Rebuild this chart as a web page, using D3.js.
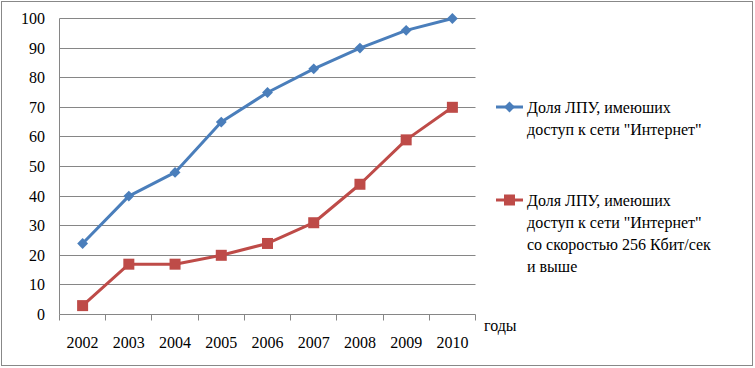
<!DOCTYPE html>
<html>
<head>
<meta charset="utf-8">
<script src="https://cdn.jsdelivr.net/npm/d3@7"></script>
<style>
  body { margin: 0; }
  .lbl { font-family: "Liberation Serif", serif; font-size: 16px; }
</style>
</head>
<body>
<div id="graf"></div>
<script>
// Datos
const years = ["2002", "2003", "2004", "2005", "2006", "2007", "2008", "2009", "2010"]
const accesoInternet = [24, 40, 48, 65, 75, 83, 90, 96, 100]
const accesoRapido = [3, 17, 17, 20, 24, 31, 44, 59, 70]
const yTicks = [0, 10, 20, 30, 40, 50, 60, 70, 80, 90, 100]
const legendBlue = ["Доля ЛПУ, имеюших", "доступ к сети  \"Интернет\""]
const legendRed = ["Доля ЛПУ, имеюших", "доступ к сети  \"Интернет\"", "со скоростью 256 Кбит/сек", "и выше"]
const axisTitle = "годы"

const ancho = 755
const alto = 368
const azul = "#4a7ebb"
const rojo = "#be4b48"
const fuente = "Liberation Serif"

const svg = d3.select("#graf")
  .append("svg")
  .attr("width", ancho)
  .attr("height", alto)

// marco exterior
svg.append("rect")
  .attr("x", 1.5).attr("y", 1.5)
  .attr("width", 751).attr("height", 364)
  .attr("fill", "white")
  .attr("stroke", "#888")

// Escaladores
const x = d3.scaleBand().domain(years).range([59.5, 475.5])
const y = d3.scaleLinear().domain([0, 100]).range([314.5, 18.5])
const cx = (d) => x(d) + x.bandwidth() / 2

// rejilla
svg.append("g")
  .selectAll("line")
  .data(yTicks.slice(1))
  .join("line")
  .attr("x1", 59.5).attr("x2", 475.5)
  .attr("y1", (d) => Math.round(y(d) - 0.5) + 0.5)
  .attr("y2", (d) => Math.round(y(d) - 0.5) + 0.5)
  .attr("stroke", "#868686")

// ejes
svg.append("line")
  .attr("x1", 59.5).attr("x2", 59.5)
  .attr("y1", 18.5).attr("y2", 314.5)
  .attr("stroke", "#868686")
svg.append("line")
  .attr("x1", 59.5).attr("x2", 475.5)
  .attr("y1", 314.5).attr("y2", 314.5)
  .attr("stroke", "#868686")

svg.append("g")
  .selectAll("line")
  .data(d3.range(years.length + 1))
  .join("line")
  .attr("x1", (i) => Math.round(59.5 + i * x.step() - 0.5) + 0.5)
  .attr("x2", (i) => Math.round(59.5 + i * x.step() - 0.5) + 0.5)
  .attr("y1", 314.5).attr("y2", 320.5)
  .attr("stroke", "#868686")

// etiquetas
svg.append("g")
  .selectAll("text")
  .data(yTicks)
  .join("text")
  .attr("class", "lbl")
  .attr("x", 45)
  .attr("y", (d) => y(d) + 5.5)
  .attr("text-anchor", "end")
  .attr("font-family", fuente)
  .text((d) => d)

svg.append("g")
  .selectAll("text")
  .data(years)
  .join("text")
  .attr("class", "lbl")
  .attr("x", (d) => cx(d))
  .attr("y", 348)
  .attr("text-anchor", "middle")
  .attr("font-family", fuente)
  .text((d) => d)

svg.append("text")
  .attr("class", "lbl")
  .attr("x", 484).attr("y", 331)
  .attr("font-family", fuente)
  .text(axisTitle)

// Lineas
const linea = d3.line().x((d, i) => cx(years[i])).y((d) => y(d))

svg.append("path")
  .datum(accesoInternet)
  .attr("d", linea)
  .attr("fill", "none")
  .attr("stroke", azul)
  .attr("stroke-width", 3)
  .attr("stroke-linejoin", "round")

svg.append("path")
  .datum(accesoRapido)
  .attr("d", linea)
  .attr("fill", "none")
  .attr("stroke", rojo)
  .attr("stroke-width", 3)
  .attr("stroke-linejoin", "round")

// marcadores
const rombo = d3.symbol().type(d3.symbolDiamond2).size(75)
svg.append("g")
  .selectAll("path")
  .data(accesoInternet)
  .join("path")
  .attr("transform", (d, i) => `translate(${cx(years[i])},${y(d)})`)
  .attr("d", rombo)
  .attr("fill", azul)

svg.append("g")
  .selectAll("rect")
  .data(accesoRapido)
  .join("rect")
  .attr("x", (d, i) => cx(years[i]) - 5.5)
  .attr("y", (d) => y(d) - 5.5)
  .attr("width", 11).attr("height", 11)
  .attr("fill", rojo)

// Leyenda
const itemB = svg.append("g").attr("transform", "translate(496,107)")
itemB.append("line").attr("x1", 0).attr("x2", 27).attr("stroke", azul).attr("stroke-width", 3)
itemB.append("path").attr("transform", "translate(13.5,0)").attr("d", rombo).attr("fill", azul)
itemB.selectAll("text")
  .data(legendBlue)
  .join("text")
  .attr("class", "lbl")
  .attr("x", 31)
  .attr("y", (d, i) => 6 + i * 22)
  .attr("font-family", fuente)
  .text((d) => d)

const itemR = svg.append("g").attr("transform", "translate(496,200)")
itemR.append("line").attr("x1", 0).attr("x2", 27).attr("stroke", rojo).attr("stroke-width", 3)
itemR.append("rect").attr("x", 8).attr("y", -5.5).attr("width", 11).attr("height", 11).attr("fill", rojo)
itemR.selectAll("text")
  .data(legendRed)
  .join("text")
  .attr("class", "lbl")
  .attr("x", 31)
  .attr("y", (d, i) => 6 + i * 22)
  .attr("font-family", fuente)
  .text((d) => d)
</script>
</body>
</html>
